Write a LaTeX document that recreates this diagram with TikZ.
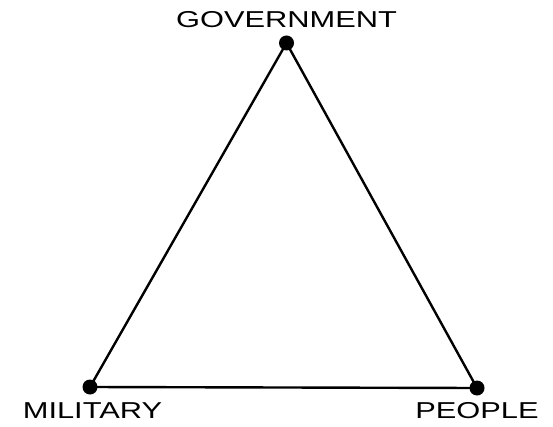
\documentclass[tikz,border=0pt]{standalone}
\usepackage{fontspec}
\setmainfont{Liberation Sans}
\begin{document}
\begin{tikzpicture}[x=1pt,y=-1pt,
  vert/.style={circle,fill=black,inner sep=0pt,minimum size=15pt},
  lbl/.style={inner sep=0pt,anchor=base,font=\fontsize{23}{25}\selectfont},
  edge/.style={line width=2.4pt}]
\useasboundingbox (0,0) rectangle (553,427);
\node[vert] (g) at (286.5,43) {};
\node[vert] (m) at (90,387) {};
\node[vert] (p) at (477,388) {};
\draw[edge] (g.center) -- (m.center) -- (p.center) -- cycle;
\node[lbl] (tg) at (286.5,28) {\scalebox{1.34}[1]{GOVERNMENT}};
\node[lbl] (tm) at (92.5,418) {\scalebox{1.34}[1]{MILITARY}};
\node[lbl] (tp) at (477,418) {\scalebox{1.34}[1]{PEOPLE}};
\end{tikzpicture}
\end{document}
